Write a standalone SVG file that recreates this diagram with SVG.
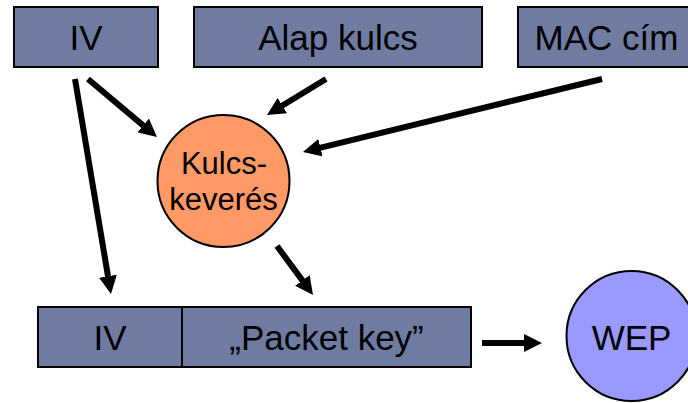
<svg xmlns="http://www.w3.org/2000/svg" width="688" height="403" viewBox="0 0 688 403">
<defs>
<style>
.box{fill:#6F7BA0;stroke:#000;stroke-width:2}
.t{font-family:"Liberation Sans",Arial,sans-serif;fill:#000;text-anchor:middle}
.big{font-size:35px}
.mid{font-size:31px}
.arr{stroke:#000;stroke-width:6;fill:none;marker-end:url(#ah)}
</style>
<marker id="ah" markerUnits="userSpaceOnUse" markerWidth="18" markerHeight="18" viewBox="0 0 18 18" refX="8" refY="9" orient="auto">
<path d="M0,0 L18,9 L0,18 z" fill="#000"/>
</marker>
</defs>
<rect width="688" height="403" fill="#fff"/>
<g id="iv-top">
<rect class="box" x="14" y="7" width="144" height="60"/>
<text class="t big" x="86" y="50">IV</text>
</g>
<g id="alap-kulcs">
<rect class="box" x="194" y="7" width="288" height="60"/>
<text class="t big" x="338" y="50">Alap kulcs</text>
</g>
<g id="mac-cim">
<rect class="box" x="518" y="7" width="177" height="60"/>
<text class="t big" x="606.5" y="50">MAC cím</text>
</g>
<g id="kulcskeveres">
<circle cx="223.5" cy="181" r="66" fill="#FF9966" stroke="#000" stroke-width="2"/>
<text class="t mid" x="224" y="174">Kulcs-</text>
<text class="t mid" x="223.5" y="210">keverés</text>
</g>
<g id="packet">
<rect class="box" x="38" y="307" width="433" height="60"/>
<line x1="182" y1="307" x2="182" y2="367" stroke="#000" stroke-width="2"/>
<text class="t big" x="110" y="350">IV</text>
<text class="t big" x="326.5" y="350">„Packet key”</text>
</g>
<g id="wep">
<circle cx="631.5" cy="336" r="65" fill="#9999FF" stroke="#000" stroke-width="2"/>
<text class="t big" x="631.5" y="350">WEP</text>
</g>
<g id="connectors">
<line class="arr" x1="88" y1="79" x2="149.3" y2="130.6"/>
<line class="arr" x1="326" y1="79" x2="275.5" y2="109.8"/>
<line class="arr" x1="602" y1="79" x2="312.7" y2="149.6"/>
<line class="arr" x1="75" y1="79" x2="109.3" y2="284.1"/>
<line class="arr" x1="277" y1="246" x2="307.1" y2="286.9"/>
<line class="arr" x1="482" y1="343" x2="532" y2="343"/>
</g>
</svg>
